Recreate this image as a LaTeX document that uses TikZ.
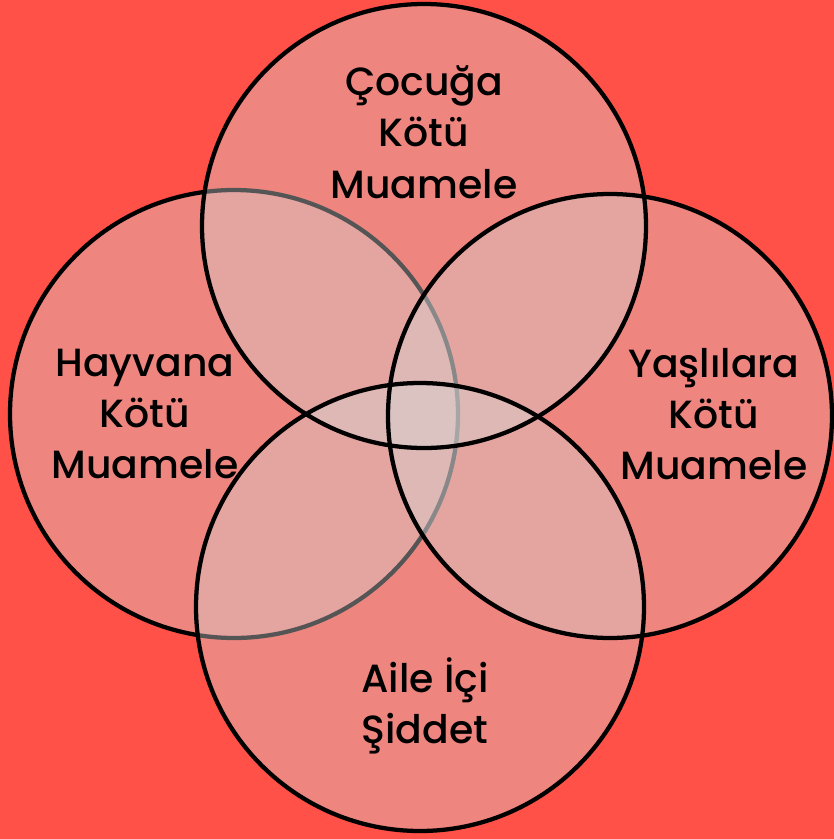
\documentclass[tikz,border=0pt]{standalone}
\usepackage{fontspec}
\setmainfont{Poppins}[UprightFont=* Medium]
\usepackage{tikz}
\usepackage{xcolor}

\definecolor{bgred}{HTML}{FF5147}
\definecolor{setgray}{HTML}{D5D5D5}

\begin{document}
\begin{tikzpicture}[
  x=0.75pt, y=-0.75pt,
  setfill/.style={fill=setgray, fill opacity=0.4},
  setline/.style={draw=black, line width=3.2pt},
  lbl/.style={align=center, font=\fontsize{29.5}{38.5}\selectfont, text=black}
]
  % background and size
  \fill[bgred] (0,0) rectangle (834,839);
  \useasboundingbox (0,0) rectangle (834,839);

  % the four sets (left one drawn first)
  \coordinate (cleft) at (234,414);
  \coordinate (ctop) at (424,226);
  \coordinate (cright) at (610,416);
  \coordinate (cbot) at (420,607);

  \path[setfill, setline] (cleft) circle (168pt);
  \path[setfill] (ctop) circle (166.5pt);
  \path[setfill] (cright) circle (166.5pt);
  \path[setfill] (cbot) circle (168pt);
  \draw[setline] (ctop) circle (166.5pt);
  \draw[setline] (cright) circle (166.5pt);
  \draw[setline] (cbot) circle (168pt);

  % labels
  \node[lbl] (ltop) at (424,132) {Çocuğa\\Kötü\\Muamele};
  \node[lbl] (lleft) at (145,414) {Hayvana\\Kötü\\Muamele};
  \node[lbl] (lright) at (714,414) {Yaşlılara\\Kötü\\Muamele};
  \node[lbl] (lbot) at (425,706) {Aile İçi\\Şiddet};
\end{tikzpicture}
\end{document}
